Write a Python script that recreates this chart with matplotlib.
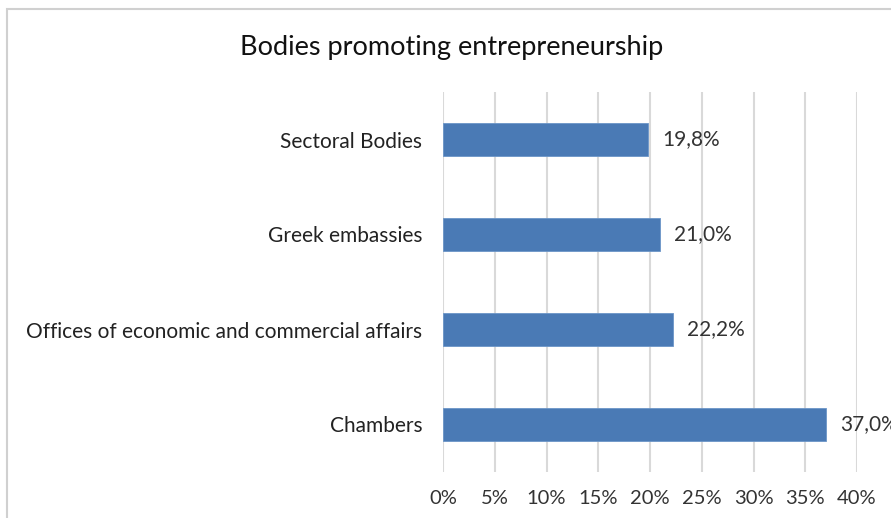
import numpy as np
import matplotlib.pyplot as plt
from matplotlib.patches import Rectangle

plt.rcParams['font.family'] = ['Lato', 'DejaVu Sans']

# data, listed bottom to top
categories = ['Chambers', 'Offices of economic and commercial affairs', 'Greek embassies', 'Sectoral Bodies']
values = [37.0, 22.2, 21.0, 19.8]
xticks = [0, 5, 10, 15, 20, 25, 30, 35, 40]

fig = plt.figure(figsize=(8.91, 5.18), dpi=100)
ax = fig.add_axes([443/891, 1 - 472/518, (857 - 443)/891, (472 - 92)/518])

y = np.arange(len(categories))
ax.barh(y, values, height=0.35, color='#4a7ab5', edgecolor='#6b95c8', linewidth=0.6, zorder=3)

for yi, v in zip(y, values):
    ax.text(v + 1.35, yi, f'{v:.1f}%'.replace('.', ','), va='center', ha='left',
            fontsize=15, color='#333333')

ax.set_xlim(0, 40)
ax.set_ylim(-0.5, len(categories) - 0.5)
ax.set_xticks(xticks)
ax.set_xticklabels([f'{t}%' for t in xticks], fontsize=14.5, color='#333333')
ax.set_yticks(y)
ax.set_yticklabels(categories, fontsize=15, color='#222222')
ax.tick_params(axis='both', length=0)
ax.tick_params(axis='x', pad=13)
ax.tick_params(axis='y', pad=15)
ax.grid(axis='x', color='#d9d9d9', linewidth=1.5, zorder=0)
for s in ax.spines.values():
    s.set_visible(False)

fig.text(452/891, 1 - 47/518, 'Bodies promoting entrepreneurship', ha='center', va='center',
         fontsize=19.5, color='#111111')

# chart frame, running off the right and bottom edges
fig.patches.append(Rectangle((7/891, -0.1), 1.2, 1 - 9/518 + 0.1, transform=fig.transFigure,
                             fill=False, edgecolor='#d0d0d0', linewidth=1.5))

fig.savefig('out.png', dpi=100)
